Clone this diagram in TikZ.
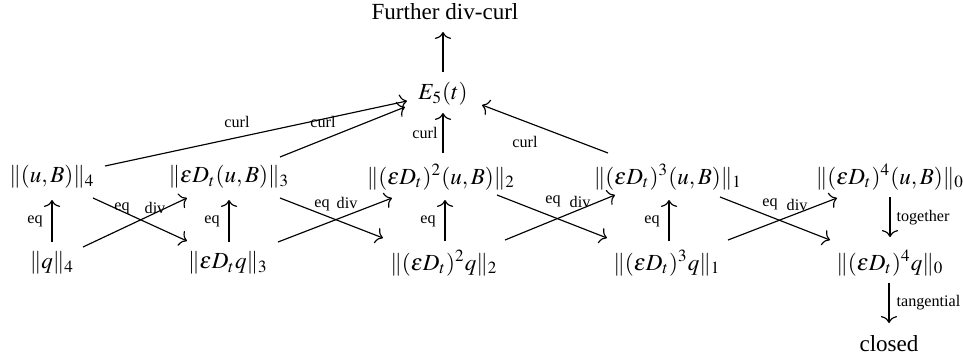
\documentclass[tikz,border=0pt]{standalone}
\usepackage{mathptmx}
\usepackage[no-math]{fontspec}
\setmainfont{Liberation Serif}
\usetikzlibrary{arrows.meta}
\begin{document}
\begin{tikzpicture}[x=0.4333pt,y=-0.4333pt,line width=0.5pt,
  mnode/.style={inner sep=0pt,font=\normalsize},
  lbl/.style={inner sep=0pt,font=\scriptsize},
  arr/.style={-{To[length=3pt,width=7pt]}}]
\useasboundingbox (0,0) rectangle (963,360);
% main nodes
\node[mnode] (F) at (445,12) {Further div-curl};
\node[mnode] (E) at (443,94) {$E_5(t)$};
\node[mnode] (T0) at (52,177) {$\|(u,B)\|_4$};
\node[mnode] (T1) at (229,177) {$\|\varepsilon D_t(u,B)\|_3$};
\node[mnode] (T2) at (441,177) {$\|(\varepsilon D_t)^2(u,B)\|_2$};
\node[mnode] (T3) at (668,177) {$\|(\varepsilon D_t)^3(u,B)\|_1$};
\node[mnode] (T4) at (890,177) {$\|(\varepsilon D_t)^4(u,B)\|_0$};
\node[mnode] (B0) at (52,263) {$\|q\|_4$};
\node[mnode] (B1) at (228,263) {$\|\varepsilon D_t q\|_3$};
\node[mnode] (B2) at (444,263) {$\|(\varepsilon D_t)^2 q\|_2$};
\node[mnode] (B3) at (667,263) {$\|(\varepsilon D_t)^3 q\|_1$};
\node[mnode] (B4) at (890,263) {$\|(\varepsilon D_t)^4 q\|_0$};
\node[mnode] (C) at (889,344) {closed};
% vertical eq arrows
\draw[arr] ([shift={(0,-21)}]B0.center) -- ([shift={(0,23)}]T0.center);
\draw[arr] ([shift={(1,-21)}]B1.center) -- ([shift={(0,23)}]T1.center);
\draw[arr] ([shift={(1,-22)}]B2.center) -- ([shift={(4,23)}]T2.center);
\draw[arr] ([shift={(2,-22)}]B3.center) -- ([shift={(1,23)}]T3.center);
\node[lbl] (e0) at (35,221) {eq};
\node[lbl] (e1) at (212,221) {eq};
\node[lbl] (e2) at (428,221) {eq};
\node[lbl] (e3) at (652,221) {eq};
% diagonals 0-1
\draw[arr] ([shift={(41,21)}]T0.center) -- ([shift={(-41,-22)}]B1.center);
\draw[arr] ([shift={(31,-16)}]B0.center) -- ([shift={(-42,21)}]T1.center);
\node[lbl] (q01) at (122,208) {eq};
\node[lbl] (d01) at (155,208) {div};
% diagonals 1-2
\draw[arr] ([shift={(51,21)}]T1.center) -- ([shift={(-61,-25)}]B2.center);
\draw[arr] ([shift={(50,-21)}]B1.center) -- ([shift={(-49,21)}]T2.center);
\node[lbl] (q12) at (322,205) {eq};
\node[lbl] (d12) at (347,203) {div};
% diagonals 2-3
\draw[arr] ([shift={(56,18)}]T2.center) -- ([shift={(-60,-25)}]B3.center);
\draw[arr] ([shift={(61,-23)}]B2.center) -- ([shift={(-53,18)}]T3.center);
\node[lbl] (q23) at (553,201) {eq};
\node[lbl] (d23) at (580,202) {div};
% diagonals 3-4
\draw[arr] ([shift={(52,20)}]T3.center) -- ([shift={(-60,-23)}]B4.center);
\draw[arr] ([shift={(61,-23)}]B3.center) -- ([shift={(-53,21)}]T4.center);
\node[lbl] (q34) at (770,204) {eq};
\node[lbl] (d34) at (797,205) {div};
% curl arrows
\draw[arr] ([shift={(53,-11)}]T0.center) -- ([shift={(-36,7)}]E.center);
\draw[arr] ([shift={(51,-20)}]T1.center) -- ([shift={(-38,13)}]E.center);
\draw[arr] ([shift={(2,-24)}]T2.center) -- ([shift={(0,19)}]E.center);
\draw[arr] ([shift={(-60,-24)}]T3.center) -- ([shift={(39,11)}]E.center);
\node[lbl] (c0) at (237,122) {curl};
\node[lbl] (c1) at (323,122) {curl};
\node[lbl] (c2) at (425,133) {curl};
\node[lbl] (c3) at (525,142) {curl};
% top arrow
\draw[arr] ([shift={(0,-22)}]E.center) -- ([shift={(-2,20)}]F.center);
% right column
\draw[arr] ([shift={(0,20)}]T4.center) -- ([shift={(0,-26)}]B4.center);
\draw[arr] ([shift={(-1,20)}]B4.center) -- ([shift={(0,-21)}]C.center);
\node[lbl,anchor=west] (tg) at (896,218) {together};
\node[lbl,anchor=west] (tn) at (896,303) {tangential};
\end{tikzpicture}
\end{document}
